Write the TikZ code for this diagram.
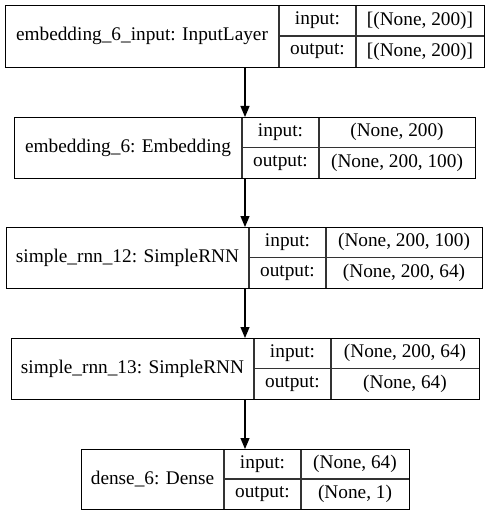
\documentclass[tikz,border=0pt]{standalone}
\usepackage{fontspec}
\setmainfont{Liberation Serif}
\usetikzlibrary{arrows.meta}
\begin{document}
\begin{tikzpicture}[x=1pt,y=-1pt,
  frame/.style={draw=black,line width=1.2pt},
  cell/.style={draw=black!80,line width=1.2pt},
  lbl/.style={inner sep=0pt,font=\fontsize{19.3}{22}\selectfont},
  link/.style={draw=black,line width=1.2pt,-{Triangle[length=11pt,width=9pt]}}]
\useasboundingbox (0,0) rectangle (489,516);
\coordinate (ax) at (245,0);
% name / x0 / y0 / x-split1 / x-split2 / x1 / y1 / title / input / output
\foreach \n/\xo/\yo/\xa/\xb/\xe/\ye/\t/\i/\o in {
  L1/5/5/279/356/484/67/{embedding\_6\_input: InputLayer}/{[(None, 200)]}/{[(None, 200)]},
  L2/14/117/242/319/475/178/{embedding\_6: Embedding}/{(None, 200)}/{(None, 200, 100)},
  L3/6/227/249/326/482/288/{simple\_rnn\_12: SimpleRNN}/{(None, 200, 100)}/{(None, 200, 64)},
  L4/11/338/254/331/479/399/{simple\_rnn\_13: SimpleRNN}/{(None, 200, 64)}/{(None, 64)},
  L5/81/449/224/301/409/509/{dense\_6: Dense}/{(None, 64)}/{(None, 1)}}{
  \pgfmathsetmacro\w{\xe-\xo}
  \pgfmathsetmacro\h{\ye-\yo}
  \pgfmathsetmacro\ym{(\yo+\ye)/2}
  \pgfmathsetmacro\ct{(\xo+\xa)/2}
  \pgfmathsetmacro\ck{(\xa+\xb)/2}
  \pgfmathsetmacro\cv{(\xb+\xe)/2}
  \pgfmathsetmacro\yi{(\yo+\ym)/2}
  \pgfmathsetmacro\yu{(\ym+\ye)/2}
  \draw[cell] (\xa,\yo) -- (\xa,\ye) (\xb,\yo) -- (\xb,\ye) (\xa,\ym) -- (\xe,\ym);
  \node[frame,anchor=north west,inner sep=0pt,minimum width=\w pt,minimum height=\h pt] (\n) at (\xo,\yo) {};
  \node[lbl] (\n-t) at (\ct,\ym) {\t};
  \node[lbl] (\n-ik) at (\ck,\yi) {input:};
  \node[lbl] (\n-iv) at (\cv,\yi) {\i};
  \node[lbl] (\n-ok) at (\ck,\yu) {output:};
  \node[lbl] (\n-ov) at (\cv,\yu) {\o};
}
\foreach \a/\b in {L1/L2,L2/L3,L3/L4,L4/L5}
  \draw[link] (\a.south -| ax) -- (\b.north -| ax);
\end{tikzpicture}
\end{document}
